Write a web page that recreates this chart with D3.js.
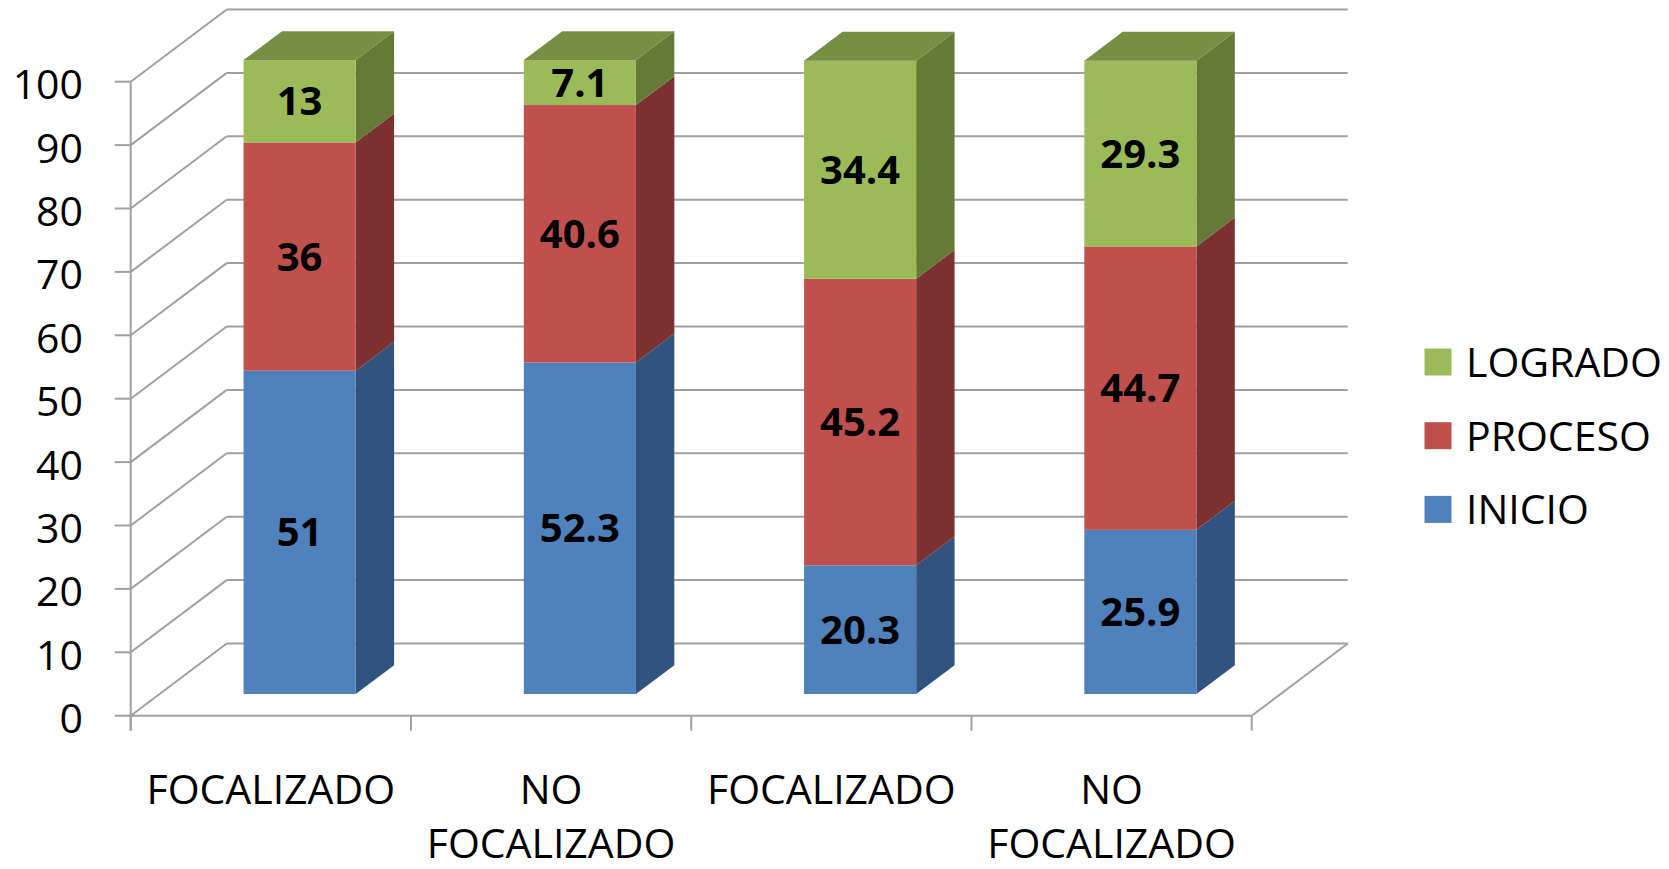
<!DOCTYPE html>
<html>
<head>
<meta charset="utf-8">
<script src="https://cdn.jsdelivr.net/npm/d3@7/dist/d3.min.js"></script>
<style>
  html, body { margin: 0; padding: 0; background: #ffffff; }
  svg { display: block; }
  text { font-family: "Open Sans", "DejaVu Sans", sans-serif; fill: #000; }
</style>
</head>
<body>
<svg id="chart" width="1669" height="869"></svg>
<script>
// ---- data ----
const categories = ["FOCALIZADO", "NO FOCALIZADO", "FOCALIZADO ", "NO FOCALIZADO "];
const categoryLines = [["FOCALIZADO"], ["NO", "FOCALIZADO"], ["FOCALIZADO"], ["NO", "FOCALIZADO"]];
const seriesNames = ["INICIO", "PROCESO", "LOGRADO"];
const inicio  = [51, 52.3, 20.3, 25.9];
const proceso = [36, 40.6, 45.2, 44.7];
const logrado = [13, 7.1, 34.4, 29.3];
const yTicks = [0, 10, 20, 30, 40, 50, 60, 70, 80, 90, 100];

const seriesValues = [inicio, proceso, logrado];
const colors = {
  INICIO:  { front: "#4F81BD", side: "#32537F", top: "#3E6798" },
  PROCESO: { front: "#C0504D", side: "#7A3130", top: "#9B3F3D" },
  LOGRADO: { front: "#9BBB59", side: "#657A37", top: "#778F44" }
};

// ---- layout ----
const svg = d3.select("#chart");
const x0 = 130.7, x1 = 1251.7;     // front floor extent
const DX = 96, DY = 72.2;           // depth offset of back wall
const y = d3.scaleLinear().domain([0, 100]).range([715.7, 81.7]);
const x = d3.scaleBand().domain(categories).range([x0, x1]).paddingInner(0.6).paddingOuter(0.3);
const depth = d3.scaleLinear().domain([0, 1]).range([0, 1]);
const P = (px, py, f) => [px + depth(f) * DX, py - depth(f) * DY];
const gridColor = "#A0A0A0";

const grid = svg.append("g").attr("stroke", gridColor).attr("stroke-width", 2).attr("fill", "none");
// back wall horizontal lines
grid.selectAll("line.back").data(yTicks).join("line")
  .attr("x1", d => P(x0, y(d), 1)[0]).attr("y1", d => P(x0, y(d), 1)[1])
  .attr("x2", d => P(x1, y(d), 1)[0]).attr("y2", d => P(x1, y(d), 1)[1]);
// side wall diagonals
grid.selectAll("line.side").data(yTicks).join("line")
  .attr("x1", x0).attr("y1", d => y(d))
  .attr("x2", d => P(x0, y(d), 1)[0]).attr("y2", d => P(x0, y(d), 1)[1]);
// floor front edge and right edge
grid.append("line").attr("x1", x0).attr("y1", y(0)).attr("x2", x1).attr("y2", y(0));
grid.append("line").attr("x1", x1).attr("y1", y(0)).attr("x2", P(x1, y(0), 1)[0]).attr("y2", P(x1, y(0), 1)[1]);
// front vertical axis
grid.append("line").attr("x1", x0).attr("y1", y(100)).attr("x2", x0).attr("y2", y(0) + 15);
// y ticks
grid.selectAll("line.yt").data(yTicks).join("line")
  .attr("x1", x0 - 16).attr("x2", x0).attr("y1", d => y(d)).attr("y2", d => y(d));
// x ticks at band boundaries
const boundaries = categories.map(c => x(c) - x.step() * x.paddingInner() / 2).slice(1).concat([x0, x1]);
grid.selectAll("line.xt").data(boundaries).join("line")
  .attr("x1", d => d).attr("x2", d => d).attr("y1", y(0)).attr("y2", y(0) + 15);

// y labels
svg.append("g").selectAll("text").data(yTicks).join("text")
  .attr("x", 83).attr("y", d => y(d) + 17.5)
  .attr("text-anchor", "end").attr("font-size", 41)
  .text(d => d);

// ---- bars ----
const fFront = 0.30, fBack = 0.70;
const bars = svg.append("g");
categories.forEach((c, i) => {
  let cum = 0;
  seriesValues.forEach((vals, s) => {
    const v = vals[i];
    const name = seriesNames[s];
    const col = colors[name];
    const lo = cum, hi = cum + v;
    cum = hi;
    const xl = x(c), xr = x(c) + x.bandwidth();
    const fl = P(xl, y(hi), fFront), fr = P(xr, y(lo), fFront);
    const frontTopRight = P(xr, y(hi), fFront);
    const backTopRight = P(xr, y(hi), fBack), backBotRight = P(xr, y(lo), fBack);
    // side face
    bars.append("polygon")
      .attr("points", [frontTopRight, backTopRight, backBotRight, fr].map(p => p.join(",")).join(" "))
      .attr("fill", col.side);
    // front face
    bars.append("rect")
      .attr("x", fl[0]).attr("y", fl[1])
      .attr("width", fr[0] - fl[0]).attr("height", fr[1] - fl[1])
      .attr("fill", col.front);
    if (s === seriesValues.length - 1) {
      const backTopLeft = P(xl, y(hi), fBack);
      bars.append("polygon")
        .attr("points", [fl, frontTopRight, backTopRight, backTopLeft].map(p => p.join(",")).join(" "))
        .attr("fill", col.top);
    }
    // label
    bars.append("text")
      .attr("x", (fl[0] + fr[0]) / 2)
      .attr("y", (fl[1] + fr[1]) / 2 + 14)
      .attr("text-anchor", "middle")
      .attr("font-size", 40).attr("font-weight", "bold")
      .text(v);
  });
});

// x labels
const xl = svg.append("g");
categories.forEach((c, i) => {
  const cx = x(c) + x.bandwidth() / 2;
  categoryLines[i].forEach((line, k) => {
    xl.append("text").attr("x", cx).attr("y", 804 + k * 53.5)
      .attr("text-anchor", "middle").attr("font-size", 41).text(line);
  });
});

// legend
const legendOrder = ["LOGRADO", "PROCESO", "INICIO"];
const lg = svg.append("g");
legendOrder.forEach((name, k) => {
  const cy = 362 + k * 73.7;
  lg.append("rect").attr("x", 1424.5).attr("y", cy - 13.5).attr("width", 27).attr("height", 27)
    .attr("fill", colors[name].front);
  lg.append("text").attr("x", 1466).attr("y", cy + 15).attr("font-size", 41).text(name);
});
</script>
</body>
</html>
